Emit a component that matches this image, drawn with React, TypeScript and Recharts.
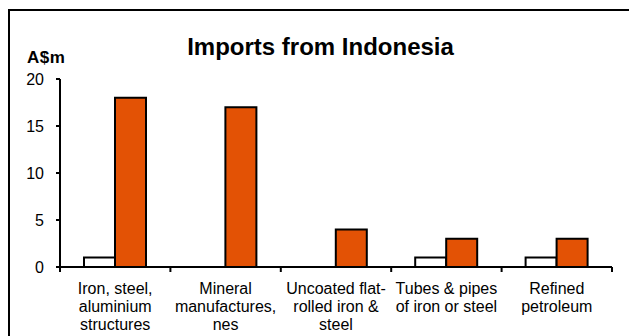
import React from "react";
import { BarChart, Bar, XAxis, YAxis } from "recharts";

const categories = [
  ["Iron, steel,", "aluminium", "structures"],
  ["Mineral", "manufactures,", "nes"],
  ["Uncoated flat-", "rolled iron &", "steel"],
  ["Tubes & pipes", "of iron or steel"],
  ["Refined", "petroleum"],
];
const prevYear = [1, 0, 0, 1, 1];
const currYear = [18, 17, 4, 3, 3];
const yTicks = [0, 5, 10, 15, 20];

const data = categories.map((lines, i) => ({
  name: lines.join(" "),
  prev: prevYear[i],
  curr: currYear[i],
}));

const FONT = "'Liberation Sans', Arial, sans-serif";
const W = 624;
const H = 330;
const PLOT_L = 50;
const PLOT_R = 602;
const TOP = 68;
const XH = 74;
const AXIS_Y = H - XH;
const band = (PLOT_R - PLOT_L) / categories.length;

// category labels centred in the band, tick marks on the band edges
const CatTick = ({ x, payload, index }: any) => {
  const i = payload.index ?? index;
  const lines: string[] = categories[i] || [];
  const y = AXIS_Y;
  return (
    <g>
      {i === 0 && (
        <line x1={PLOT_L} x2={PLOT_L} y1={y} y2={TOP} stroke="#000" strokeWidth={2} />
      )}
      <line x1={x - band / 2} x2={x - band / 2} y1={y} y2={y + 5} stroke="#000" strokeWidth={2} />
      {i === categories.length - 1 && (
        <line x1={x + band / 2} x2={x + band / 2} y1={y} y2={y + 5} stroke="#000" strokeWidth={2} />
      )}
      <text x={x} y={y + 27} textAnchor="middle" fontSize={16} fontFamily={FONT} fill="#000">
        {lines.map((l, k) => (
          <tspan key={k} x={x} dy={k === 0 ? 0 : 18}>
            {l}
          </tspan>
        ))}
      </text>
    </g>
  );
};

export default function App() {
  return (
    <div
      style={{
        position: "relative",
        marginTop: 1,
        width: W,
        height: H + 10,
        border: "2px solid #000",
        boxShadow: "2px 0 0 #000",
        fontFamily: FONT,
      }}
    >
      <div
        style={{
          position: "absolute",
          left: 0,
          width: 621,
          top: 22,
          textAlign: "center",
          fontSize: 24,
          fontWeight: "bold",
          lineHeight: "28px",
        }}
      >
        Imports from Indonesia
      </div>
      <div
        style={{
          position: "absolute",
          left: 17,
          top: 37,
          fontSize: 17,
          fontWeight: "bold",
          lineHeight: "20px",
          letterSpacing: 0.5,
        }}
      >
        A$m
      </div>
      <BarChart
        width={W}
        height={H}
        data={data}
        margin={{ top: TOP, right: W - PLOT_R, left: 0, bottom: 0 }}
        barGap={0}
        barSize={31}
      >
        <XAxis
          dataKey="name"
          height={XH}
          interval={0}
          tickLine={false}
          axisLine={{ stroke: "#000", strokeWidth: 2 }}
          tick={<CatTick />}
        />
        <YAxis
          width={PLOT_L}
          domain={[0, 20]}
          ticks={yTicks}
          tickSize={4}
          tickMargin={12}
          axisLine={{ stroke: "#000", strokeWidth: 2 }}
          tickLine={{ stroke: "#000", strokeWidth: 2 }}
          tick={{ fill: "#000", fontSize: 16, fontFamily: FONT }}
        />
        <Bar dataKey="prev" fill="#fff" stroke="#000" strokeWidth={2} isAnimationActive={false} />
        <Bar dataKey="curr" fill="#E35205" stroke="#000" strokeWidth={2} isAnimationActive={false} />
      </BarChart>
    </div>
  );
}
